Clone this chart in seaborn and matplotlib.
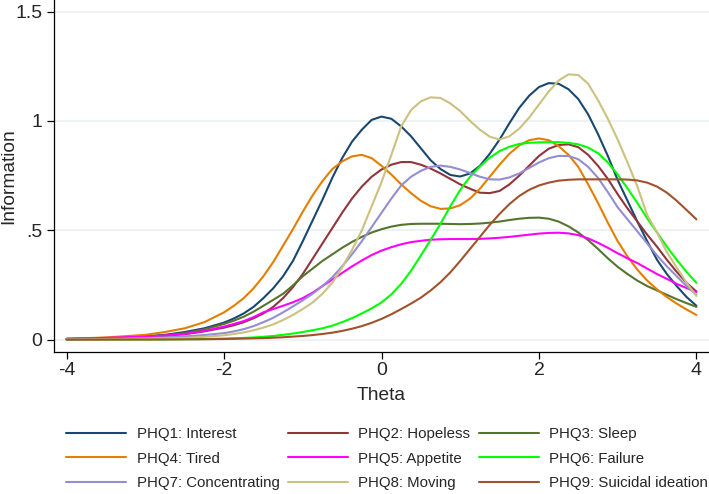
import numpy as np
import pandas as pd
import matplotlib
matplotlib.use("Agg")
import matplotlib.pyplot as plt
import seaborn as sns

theta = [-4, -3.5, -3, -2.75, -2.5, -2.25,
         -2, -1.875, -1.75, -1.625, -1.5, -1.375, -1.25, -1.125,
         -1, -0.875, -0.75, -0.625, -0.5, -0.375, -0.25, -0.125,
         0, 0.125, 0.25, 0.375, 0.5, 0.625, 0.75, 0.875,
         1, 1.125, 1.25, 1.375, 1.5, 1.625, 1.75, 1.875,
         2, 2.125, 2.25, 2.375, 2.5, 2.625, 2.75, 2.875,
         3, 3.125, 3.25, 3.375, 3.5, 3.625, 3.75, 3.875, 4]

phq1 = [0.003, 0.006, 0.015, 0.022, 0.035, 0.052,
        0.078, 0.097, 0.12, 0.15, 0.19, 0.235, 0.29, 0.36,
        0.45, 0.545, 0.64, 0.74, 0.83, 0.905, 0.96, 1.005,
        1.02, 1.01, 0.975, 0.93, 0.875, 0.82, 0.78, 0.753,
        0.746, 0.76, 0.795, 0.85, 0.915, 0.99, 1.06, 1.115,
        1.155, 1.173, 1.17, 1.145, 1.10, 1.03, 0.94, 0.84,
        0.73, 0.635, 0.54, 0.45, 0.365, 0.30, 0.245, 0.195, 0.155]
phq2 = [0.002, 0.005, 0.012, 0.017, 0.025, 0.038,
        0.055, 0.066, 0.08, 0.098, 0.12, 0.15, 0.19, 0.24,
        0.30, 0.37, 0.44, 0.51, 0.58, 0.645, 0.70, 0.745,
        0.778, 0.80, 0.812, 0.812, 0.80, 0.782, 0.76, 0.735,
        0.71, 0.69, 0.672, 0.67, 0.68, 0.71, 0.75, 0.795,
        0.84, 0.873, 0.89, 0.893, 0.88, 0.845, 0.795, 0.735,
        0.665, 0.60, 0.54, 0.48, 0.425, 0.365, 0.31, 0.26, 0.22]
phq3 = [0.004, 0.008, 0.014, 0.02, 0.03, 0.047,
        0.072, 0.087, 0.105, 0.128, 0.155, 0.182, 0.21, 0.248,
        0.29, 0.325, 0.36, 0.39, 0.42, 0.447, 0.47, 0.49,
        0.505, 0.517, 0.525, 0.529, 0.53, 0.53, 0.53, 0.529,
        0.528, 0.529, 0.531, 0.535, 0.54, 0.547, 0.553, 0.557,
        0.558, 0.553, 0.54, 0.518, 0.49, 0.455, 0.415, 0.372,
        0.333, 0.30, 0.27, 0.245, 0.225, 0.205, 0.185, 0.167, 0.15]
phq4 = [0.004, 0.01, 0.022, 0.035, 0.052, 0.08,
        0.125, 0.155, 0.19, 0.235, 0.29, 0.355, 0.43, 0.505,
        0.585, 0.66, 0.725, 0.78, 0.815, 0.838, 0.845, 0.83,
        0.795, 0.755, 0.71, 0.67, 0.635, 0.61, 0.598, 0.60,
        0.615, 0.645, 0.69, 0.745, 0.80, 0.85, 0.888, 0.912,
        0.92, 0.912, 0.885, 0.845, 0.79, 0.71, 0.625, 0.535,
        0.45, 0.38, 0.32, 0.27, 0.23, 0.195, 0.165, 0.138, 0.113]
phq5 = [0.004, 0.008, 0.014, 0.019, 0.026, 0.04,
        0.06, 0.072, 0.085, 0.103, 0.125, 0.14, 0.155, 0.171,
        0.19, 0.215, 0.245, 0.275, 0.305, 0.335, 0.362, 0.387,
        0.407, 0.423, 0.436, 0.446, 0.452, 0.457, 0.459, 0.46,
        0.46, 0.46, 0.461, 0.463, 0.466, 0.47, 0.475, 0.48,
        0.485, 0.488, 0.489, 0.486, 0.478, 0.463, 0.443, 0.42,
        0.395, 0.372, 0.35, 0.325, 0.30, 0.278, 0.255, 0.236, 0.218]
phq6 = [0.0003, 0.0006, 0.001, 0.0015, 0.002, 0.003,
        0.005, 0.0065, 0.008, 0.01, 0.013, 0.017, 0.022, 0.028,
        0.035, 0.043, 0.052, 0.064, 0.08, 0.098, 0.12, 0.143,
        0.17, 0.207, 0.255, 0.315, 0.385, 0.457, 0.53, 0.61,
        0.685, 0.745, 0.792, 0.832, 0.862, 0.882, 0.895, 0.90,
        0.902, 0.903, 0.903, 0.90, 0.893, 0.878, 0.853, 0.81,
        0.755, 0.692, 0.625, 0.555, 0.49, 0.425, 0.365, 0.31, 0.26]
phq7 = [0.001, 0.003, 0.007, 0.01, 0.015, 0.021,
        0.03, 0.038, 0.048, 0.062, 0.08, 0.10, 0.125, 0.152,
        0.18, 0.21, 0.245, 0.285, 0.335, 0.39, 0.45, 0.515,
        0.58, 0.645, 0.705, 0.745, 0.772, 0.79, 0.796, 0.79,
        0.778, 0.762, 0.745, 0.733, 0.732, 0.742, 0.76, 0.785,
        0.81, 0.83, 0.84, 0.84, 0.825, 0.79, 0.74, 0.675,
        0.605, 0.55, 0.495, 0.44, 0.385, 0.335, 0.29, 0.245, 0.205]
phq8 = [0.001, 0.002, 0.004, 0.006, 0.008, 0.013,
        0.02, 0.026, 0.033, 0.043, 0.055, 0.07, 0.09, 0.113,
        0.14, 0.17, 0.21, 0.26, 0.33, 0.41, 0.50, 0.61,
        0.72, 0.845, 0.975, 1.05, 1.09, 1.108, 1.105, 1.08,
        1.045, 1.0, 0.96, 0.928, 0.915, 0.93, 0.965, 1.015,
        1.075, 1.135, 1.185, 1.213, 1.21, 1.17, 1.095, 1.01,
        0.915, 0.81, 0.70, 0.57, 0.49, 0.40, 0.33, 0.26, 0.20]
phq9 = [0.0002, 0.0004, 0.0008, 0.001, 0.0015, 0.002,
        0.003, 0.004, 0.005, 0.006, 0.007, 0.009, 0.011, 0.014,
        0.017, 0.021, 0.026, 0.032, 0.04, 0.05, 0.062, 0.077,
        0.095, 0.116, 0.14, 0.165, 0.192, 0.225, 0.263, 0.308,
        0.36, 0.415, 0.47, 0.525, 0.575, 0.62, 0.657, 0.685,
        0.705, 0.718, 0.727, 0.731, 0.733, 0.733, 0.733, 0.733,
        0.733, 0.732, 0.728, 0.718, 0.70, 0.672, 0.635, 0.593, 0.55]

labels = ["PHQ1: Interest", "PHQ2: Hopeless", "PHQ3: Sleep", "PHQ4: Tired", "PHQ5: Appetite",
          "PHQ6: Failure", "PHQ7: Concentrating", "PHQ8: Moving", "PHQ9: Suicidal ideation"]
colors = ["#1a476f", "#90353b", "#55752f", "#e37e00", "#ff00ff",
          "#00ff00", "#938dd2", "#cac27e", "#a0522d"]

yticks = [0, 0.5, 1, 1.5]
ytick_labels = ["0", ".5", "1", "1.5"]
xticks = [-4, -2, 0, 2, 4]

series = [phq1, phq2, phq3, phq4, phq5, phq6, phq7, phq8, phq9]
df = pd.concat([pd.DataFrame({"Theta": theta, "Information": s, "Item": lab})
                for s, lab in zip(series, labels)], ignore_index=True)

sns.set_style("white")
plt.rcParams["font.family"] = ["Liberation Sans", "DejaVu Sans"]

fig = plt.figure(figsize=(7.09, 4.94), dpi=100)
ax = fig.add_axes([54 / 709, 1 - 351.7 / 494, 1 - 54 / 709, 351.7 / 494])

sns.lineplot(data=df, x="Theta", y="Information", hue="Item", hue_order=labels,
             palette=dict(zip(labels, colors)), linewidth=1.5, ax=ax, legend=True)

handles, labs = ax.get_legend_handles_labels()
ax.get_legend().remove()
order = [0, 3, 6, 1, 4, 7, 2, 5, 8]
fig.legend([handles[i] for i in order], [labs[i] for i in order], ncol=3,
           loc="center", bbox_to_anchor=(387 / 709, 1 - 458.5 / 494), frameon=False,
           fontsize=10.8, handlelength=4.0, handletextpad=0.7, columnspacing=0.55,
           labelspacing=0.7, borderpad=0.2)

ax.set_xlim(-4.16, 4.16)
ax.set_ylim(-0.055, 1.553)
ax.set_yticks(yticks)
ax.set_yticklabels(ytick_labels)
ax.set_xticks(xticks)
ax.set_xticklabels([str(x) for x in xticks])
ax.tick_params(axis="both", which="major", direction="out", length=5.2, width=0.9,
               labelsize=14, color="black", left=True, bottom=True)
ax.tick_params(axis="x", pad=2.2)
ax.tick_params(axis="y", pad=3)
ax.set_xlabel("Theta", fontsize=13.8, labelpad=5.5)
ax.set_ylabel("Information", fontsize=13.8)
ax.yaxis.set_label_coords(-0.0565, 0.5)
ax.yaxis.grid(True, color="#eaf2f3", linewidth=1.3)
ax.xaxis.grid(False)
ax.set_axisbelow(True)
for side in ["top", "right"]:
    ax.spines[side].set_visible(False)
for side in ["left", "bottom"]:
    ax.spines[side].set_color("black")
    ax.spines[side].set_linewidth(0.9)

fig.savefig("out.png", dpi=100)
